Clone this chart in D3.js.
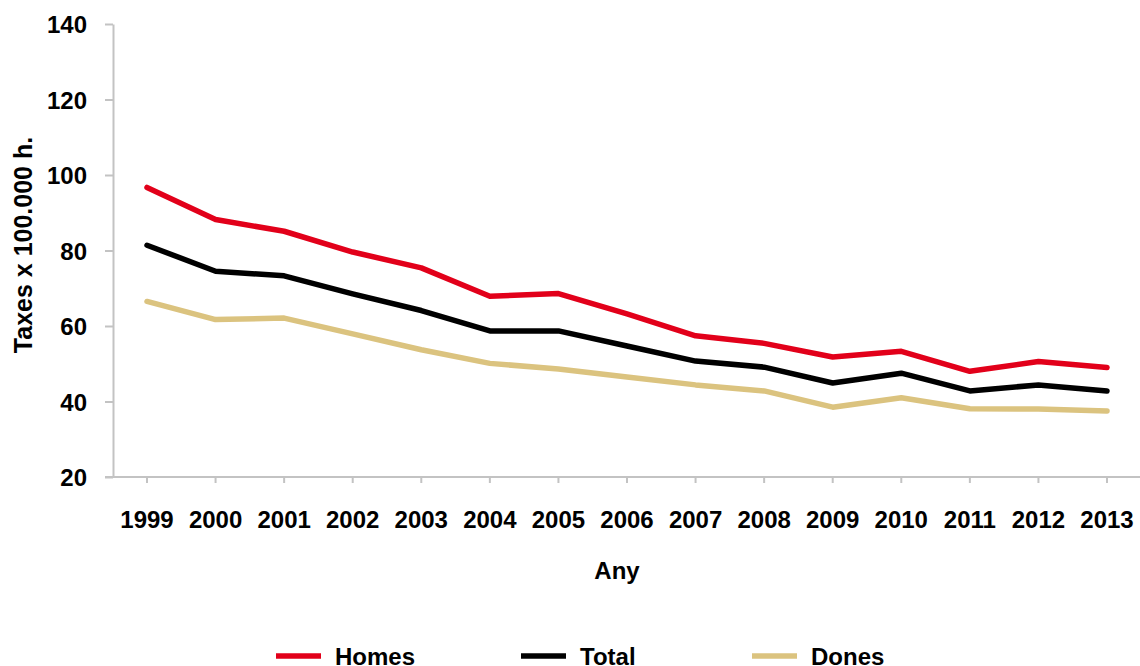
<!DOCTYPE html>
<html>
<head>
<meta charset="utf-8">
<script src="https://cdn.jsdelivr.net/npm/d3@7"></script>
<style>
	body { margin: 0; background: #fff; }
	svg text { font-family: "Liberation Sans", Arial, sans-serif; font-weight: bold; fill: #000; }
	.axis path, .axis line { stroke: #c3c3c3; stroke-width: 2; }
</style>
</head>
<body>
<svg id="chart" width="1140" height="666"></svg>
<script>
// data
var years  = [1999, 2000, 2001, 2002, 2003, 2004, 2005, 2006, 2007, 2008, 2009, 2010, 2011, 2012, 2013];
var homes  = [96.7, 88.2, 85.1, 79.6, 75.4, 67.9, 68.6, 63.2, 57.4, 55.4, 51.8, 53.3, 48.0, 50.6, 49.0];
var total  = [81.4, 74.5, 73.3, 68.5, 64.1, 58.7, 58.7, 54.7, 50.7, 49.1, 44.9, 47.5, 42.8, 44.4, 42.8];
var dones  = [66.5, 61.7, 62.1, 57.9, 53.7, 50.1, 48.6, 46.5, 44.4, 42.8, 38.5, 41.0, 38.1, 38.0, 37.5];
var yTicks = [20, 40, 60, 80, 100, 120, 140];

var seriesList = [
	{name: 'Homes', values: homes, color: '#e2001a'},
	{name: 'Total', values: total, color: '#000000'},
	{name: 'Dones', values: dones, color: '#dbc37f'}
];

var svg = d3.select('#chart');

var x = d3.scalePoint()
	.domain(years)
	.range([147, 1107]);

var y = d3.scaleLinear()
	.domain([20, 140])
	.range([477, 24]);

// y axis
var yAxis = svg.append('g')
	.attr('class', 'axis')
	.attr('transform', 'translate(113,0)')
	.call(d3.axisLeft(y).tickValues(yTicks).tickSize(8).tickPadding(18).tickSizeOuter(0));
yAxis.selectAll('text').style('font-size', '24px').attr('dy', '0.36em');

// x axis
var xAxis = svg.append('g')
	.attr('class', 'axis')
	.attr('transform', 'translate(0,477)');
xAxis.append('line')
	.attr('x1', 105).attr('x2', 1140)
	.attr('y1', 0).attr('y2', 0);
xAxis.selectAll('line.tick')
	.data(years)
	.enter()
	.append('line')
	.attr('class', 'tick')
	.attr('x1', d => x(d)).attr('x2', d => x(d))
	.attr('y1', 0).attr('y2', 6);
xAxis.selectAll('text')
	.data(years)
	.enter()
	.append('text')
	.attr('x', d => x(d))
	.attr('y', 51)
	.attr('text-anchor', 'middle')
	.style('font-size', '24px')
	.text(d => d);

// lines
var line = d3.line()
	.x((d, i) => x(years[i]))
	.y(d => y(d));

svg.selectAll('path.series')
	.data(seriesList)
	.enter()
	.append('path')
	.attr('class', 'series')
	.attr('d', d => line(d.values))
	.attr('fill', 'none')
	.attr('stroke', d => d.color)
	.attr('stroke-width', 5.5)
	.attr('stroke-linecap', 'round')
	.attr('stroke-linejoin', 'round');

// axis titles
svg.append('text')
	.attr('x', 617)
	.attr('y', 579)
	.attr('text-anchor', 'middle')
	.style('font-size', '24px')
	.text('Any');

svg.append('text')
	.attr('transform', 'translate(32,245) rotate(-90)')
	.attr('text-anchor', 'middle')
	.style('font-size', '25px')
	.text('Taxes x 100.000 h.');

// legend
var legendX = [276, 521, 752];
var legend = svg.selectAll('g.legend')
	.data(seriesList)
	.enter()
	.append('g')
	.attr('class', 'legend')
	.attr('transform', (d, i) => 'translate(' + legendX[i] + ',656)');

legend.append('line')
	.attr('x1', 0).attr('x2', 45)
	.attr('y1', 0).attr('y2', 0)
	.attr('stroke', d => d.color)
	.attr('stroke-width', 5.5);

legend.append('text')
	.attr('x', 59)
	.attr('y', 9)
	.style('font-size', '24px')
	.text(d => d.name);
</script>
</body>
</html>
